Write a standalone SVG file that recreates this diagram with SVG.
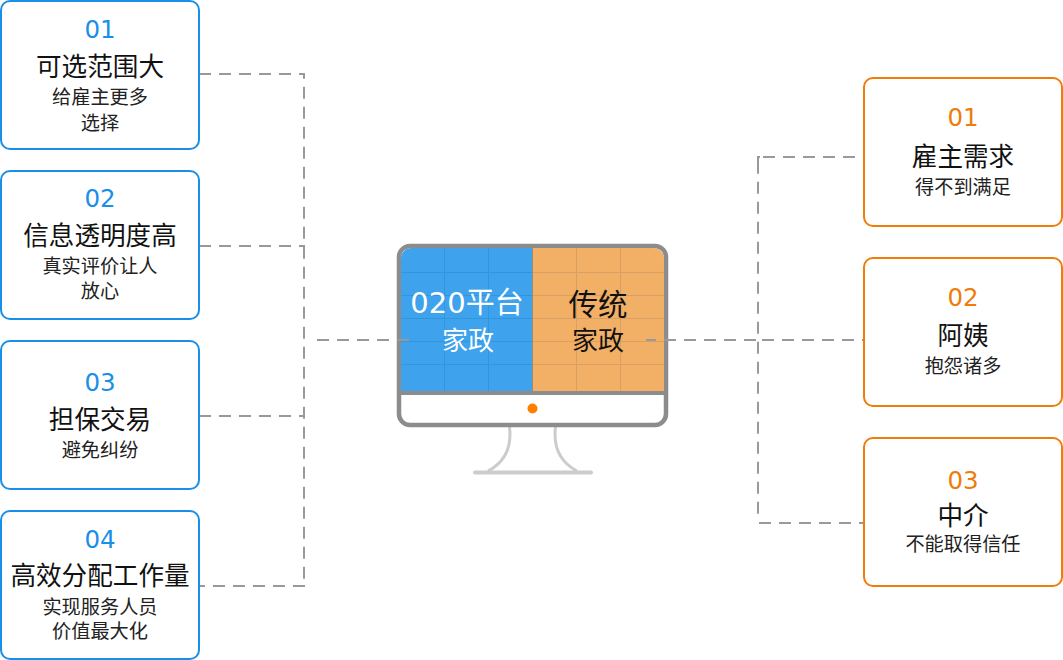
<svg xmlns="http://www.w3.org/2000/svg" width="1063" height="660" viewBox="0 0 1063 660">
<style>
text{font-family:"DejaVu Sans","Noto Sans CJK SC",sans-serif;text-anchor:middle;fill:#111}
.n{font-size:24.500px}.t{font-size:25.600px}.s{font-size:19.200px;fill:#222}
.bl rect{fill:#fff;stroke:#1a8fe8;stroke-width:2}.bl .n{fill:#1a8fe8}
.or rect{fill:#fff;stroke:#ee7d0a;stroke-width:2}.or .n{fill:#ee7d0a}
.c{fill:none;stroke:#999;stroke-width:2;stroke-dasharray:12 8}
.g{stroke-width:1;fill:none}
</style>
<g id="monitor">
<path d="M509.500 427C512 448 505 462 488 471M555.500 427C553 448 560 462 577 471" fill="none" stroke="#ccc" stroke-width="3"/>
<path d="M475 472.500H591" stroke="#ccc" stroke-width="4" stroke-linecap="round"/>
<rect x="399" y="246" width="267" height="179" rx="11" fill="#fff" stroke="#8c8c8c" stroke-width="4.500"/>
<path d="M532.500 248H411a10 10 0 0 0 -10 10V391H532.500Z" fill="#3ea2ec"/>
<path d="M532.500 248H654a10 10 0 0 1 10 10V391H532.500Z" fill="#f2af66"/>
<path class="g" stroke="#2f97e0" d="M444.500 248V391M488.500 248V391M401 272.500H532M401 295.500H532M401 318.500H532M401 341.500H532M401 364.500H532"/>
<path class="g" stroke="#d9a066" d="M576.500 248V391M620.500 248V391M533 272.500H664M533 295.500H664M533 318.500H664M533 341.500H664M533 364.500H664"/>
<path d="M532.500 248V391" stroke="#a08a70" stroke-width="1"/>
<path d="M401 393H664" stroke="#8c8c8c" stroke-width="4"/>
<circle cx="532.500" cy="408.500" r="5" fill="#ff8000"/>
<text x="467" y="313" font-size="29" style="fill:#fff">020平台</text>
<text x="468" y="350" font-size="26" style="fill:#fff">家政</text>
<text x="598" y="314.500" font-size="29.500">传统</text>
<text x="598" y="350" font-size="26">家政</text>
</g>
<g id="connectors">
<path class="c" d="M199 74H305"/>
<path class="c" d="M199 246H305"/>
<path class="c" d="M199 416H305"/>
<path class="c" d="M305 586H199"/>
<path class="c" d="M304 74V580" stroke-dashoffset="7.300"/>
<path class="c" d="M317 340H409"/>
<path class="c" d="M855 157H763"/>
<path d="M758 163V157H760" fill="none" stroke="#999" stroke-width="2"/>
<path class="c" d="M758 161.700V514"/>
<path class="c" d="M759 523H864"/>
<path class="c" d="M646 340H757" stroke-dashoffset="2"/>
<path class="c" d="M762 340H864"/>
</g>
<g id="l1" class="bl"><rect x="1" y="1" width="198" height="148" rx="9"/><text class="n" x="100" y="38">01</text><text class="t" x="100" y="75.500">可选范围大</text><text class="s" x="100" y="104">给雇主更多</text><text class="s" x="100" y="130">选择</text></g>
<g id="l2" class="bl"><rect x="1" y="171" width="198" height="148" rx="9"/><text class="n" x="100" y="207">02</text><text class="t" x="100" y="244.500">信息透明度高</text><text class="s" x="100" y="273">真实评价让人</text><text class="s" x="100" y="298">放心</text></g>
<g id="l3" class="bl"><rect x="1" y="341" width="198" height="148" rx="9"/><text class="n" x="100" y="391">03</text><text class="t" x="100" y="428.500">担保交易</text><text class="s" x="100" y="457">避免纠纷</text></g>
<g id="l4" class="bl"><rect x="1" y="511" width="198" height="148" rx="9"/><text class="n" x="100" y="548">04</text><text class="t" x="100" y="585">高效分配工作量</text><text class="s" x="100" y="614">实现服务人员</text><text class="s" x="100" y="638">价值最大化</text></g>
<g id="r1" class="or"><rect x="864" y="78" width="198" height="148" rx="9"/><text class="n" x="963" y="126">01</text><text class="t" x="963" y="165.500">雇主需求</text><text class="s" x="963" y="194">得不到满足</text></g>
<g id="r2" class="or"><rect x="864" y="258" width="198" height="148" rx="9"/><text class="n" x="963" y="306">02</text><text class="t" x="963" y="344.500">阿姨</text><text class="s" x="963" y="373">抱怨诸多</text></g>
<g id="r3" class="or"><rect x="864" y="438" width="198" height="148" rx="9"/><text class="n" x="963" y="489">03</text><text class="t" x="963" y="524.500">中介</text><text class="s" x="963" y="551">不能取得信任</text></g>
</svg>
